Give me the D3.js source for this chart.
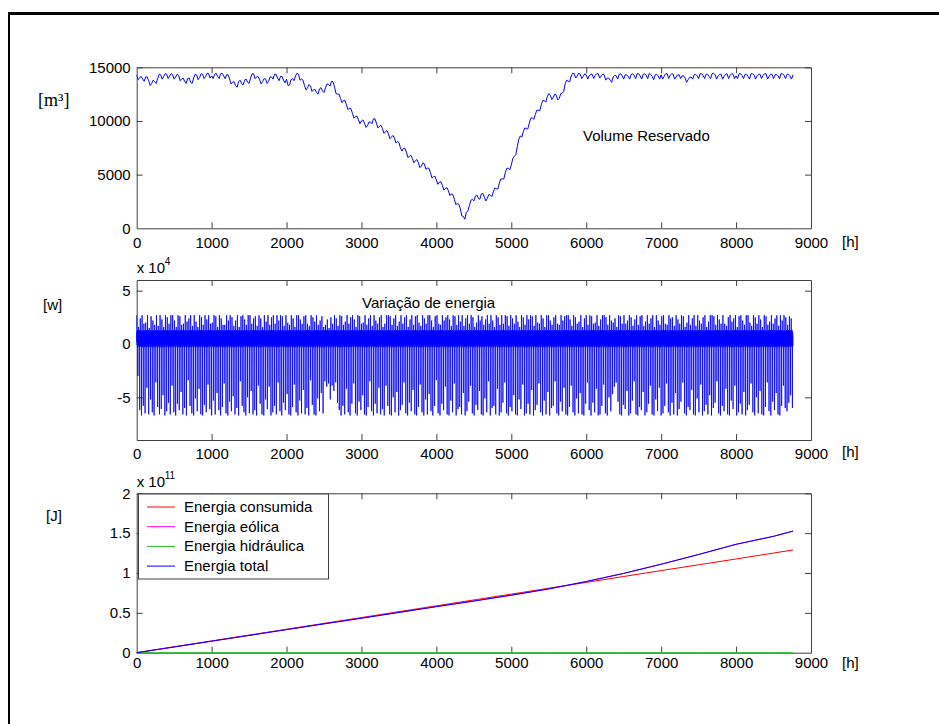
<!DOCTYPE html>
<head>
<meta charset="utf-8">
<title>Volume reservado e energia</title>
<style>
  body { margin: 0; background: #fff; }
  svg { display: block; }
  .axis text { font: 15px Arial, "Liberation Sans", sans-serif; fill: #000; }
  .axis path, .axis line { stroke: #404040; }
  .lbl { font: 15px Arial, "Liberation Sans", sans-serif; fill: #000; }
  .serif { font: 18px "Times New Roman", "Liberation Serif", serif; fill: #000; }
  .sup { font: 10px Arial, "Liberation Sans", sans-serif; fill: #000; }
</style>
</head>
<body>
<script src="https://d3js.org/d3.v7.min.js"></script>
<script>

// ---- data ----
var hourTicks = [0, 1000, 2000, 3000, 4000, 5000, 6000, 7000, 8000, 9000];

// reservoir volume [m3], one sample every 20 h from 0 to 8760 h
var volumeStep = 20;
var volume = [
  14250,13850,14050,14150,13900,13700,14100,14100,13750,13300,13500,13800,13650,13500,13950,14350,14300,13900,14150,14400,14350,13950,14200,14400,14300,13900,14100,14350,14250,13750,13900,14000,13700,13500,13950,14000,13600,13500,14000,14350,14300,13850,14050,14400,14350,13950,14150,14450,14400,14000,
  14200,13950,14350,14450,14150,13950,14400,14450,14200,13950,14300,14300,13900,13450,13600,13650,13300,13150,13650,13800,13500,13350,13800,13900,13600,13500,14000,14400,14400,13950,14100,14150,13850,13450,13650,13950,13900,13500,13700,14100,14100,13900,14350,14350,14000,13750,14150,14150,13800,13550,
  13900,13300,13350,13850,13950,13750,14200,14450,14350,13800,13900,13800,13300,12900,13100,13400,13250,12750,12900,12950,12650,12500,13000,13100,12800,12650,13100,13450,13400,13250,13700,13650,13200,12550,12500,12500,12100,11700,11900,11900,11500,11050,11200,11150,10700,10250,10400,10450,10100,9750,
  10000,10100,9800,9400,9550,9900,9900,9750,10200,10200,9800,9350,9500,9600,9300,8850,9000,9100,8800,8350,8500,8650,8400,7950,8100,8000,7500,7200,7450,7450,7100,6600,6700,6800,6500,6100,6300,6400,6100,5650,5800,6100,6000,5500,5600,5600,5200,4700,4800,4850,
  4500,4100,4300,4350,4000,3550,3700,3800,3500,3050,3200,3150,2700,2200,2300,2250,1800,1150,1100,850,1500,1600,2100,2600,2700,2550,3000,3100,2800,2700,3200,3250,2900,2550,2800,3150,3100,2950,3400,3750,3700,3650,4200,4600,4600,4600,5200,5600,5600,5450,
  5900,6500,6700,6850,7600,8300,8600,8500,9000,9350,9300,9250,9800,10250,10300,10150,10600,11000,11000,10950,11500,11900,11900,11750,12250,12550,12400,12000,12200,12500,12400,11950,12100,12550,12600,12750,13500,13800,13700,13650,14200,14450,14400,14000,14200,14450,14350,13950,14150,14400,
  14300,13900,14200,14350,14350,13950,14250,14400,14400,14000,14200,14350,14300,13800,14000,14000,13800,13600,14100,14250,14200,13900,14350,14400,14200,13900,14300,14300,14150,13900,14350,14400,14250,13950,14400,14400,14200,13900,14350,14400,14250,13950,14400,14350,14150,13850,14300,14350,14200,13900,
  14300,13900,14150,14400,14400,13950,14250,14400,14350,13900,14100,14300,14300,13950,14200,14200,14000,13600,13850,14050,14100,13900,14300,14350,14200,13950,14400,14400,14250,13950,14350,14350,14150,13950,14400,14450,14300,13900,14200,14350,14350,13900,14150,14350,14400,13950,14250,14400,14350,13950,
  14200,13950,14400,14400,14250,13950,14350,14350,14150,13900,14400,14400,14300,13900,14200,14350,14350,13950,14250,14400,14400,13900,14150,14350,14350,13950,14300,14350,14200,13950,14400,14400,14250,13950,14350,14350,14200,13900,14300
];
var volumeTicks = [0, 5000, 10000, 15000];

// energy variation [x 10^4 W]: one day = high peak, band wiggle, low spike
var dailyHigh = [
  2.7,1.6,2.4,2.7,1.9,2.0,2.7,1.5,2.6,2.2,1.8,2.7,1.7,2.7,2.3,1.6,2.7,2.5,1.9,2.7,
  2.7,2.2,1.6,2.7,2.6,1.8,1.9,2.7,2.1,2.4,2.7,1.7,2.7,2.1,1.6,2.7,2.5,1.8,2.7,2.3,
  2.7,1.9,2.0,2.7,2.6,1.6,2.7,2.4,1.8,1.8,2.7,2.2,2.7,2.5,1.7,2.2,2.7,1.6,2.6,2.7,
  2.3,1.8,2.7,2.7,1.9,2.4,2.6,1.7,2.7,2.4,1.6,2.7,2.1,2.7,1.8,2.5,2.7,1.9,2.7,2.2,
  2.7,2.6,1.7,2.7,2.0,1.8,2.7,2.4,1.6,2.7,2.7,2.3,1.9,2.6,2.7,1.9,1.7,2.7,2.5,2.1,
  2.7,1.8,2.2,2.6,1.6,1.8,2.3,1.5,2.5,1.9,2.7,2.4,1.7,2.7,2.6,1.8,2.1,2.7,1.9,2.5,
  2.7,2.3,1.6,2.7,2.6,1.9,2.0,2.7,1.8,2.4,2.7,1.7,2.7,2.2,1.9,2.5,2.7,1.6,1.9,2.7,
  2.7,2.6,1.8,2.4,2.7,1.7,2.1,2.7,1.9,2.5,2.7,1.6,2.3,2.7,1.8,2.6,2.7,2.0,1.7,2.7,
  2.4,1.9,2.7,2.7,2.2,1.6,2.6,2.7,1.9,1.8,2.7,2.2,2.5,2.7,2.3,1.7,2.7,2.6,1.8,2.7,
  2.1,2.7,1.7,2.4,2.7,1.9,2.7,2.5,1.6,2.0,2.7,2.2,2.6,1.8,2.3,2.7,1.9,2.7,2.2,1.6,
  2.7,2.5,1.8,2.7,1.9,2.7,2.6,1.7,2.7,2.4,1.9,2.7,2.1,1.6,2.7,2.5,1.8,2.7,2.3,2.7,
  2.6,1.7,2.7,2.0,1.9,2.7,2.4,1.6,2.7,2.7,2.2,1.8,2.5,2.7,1.9,1.8,2.7,2.2,2.6,2.7,
  2.7,2.3,1.7,2.7,2.5,1.9,2.1,2.7,1.6,2.4,2.7,1.8,2.7,2.6,1.9,2.0,2.7,1.7,2.3,2.7,
  2.7,2.5,1.8,2.7,2.2,2.0,2.4,1.6,2.7,2.6,1.9,2.7,1.9,2.2,2.7,2.5,1.7,2.3,2.7,1.8,
  2.6,2.7,1.7,2.1,2.7,1.9,2.4,2.7,1.6,2.7,2.2,1.8,2.6,2.7,1.9,1.8,2.7,2.4,2.5,1.7,
  2.7,2.3,1.9,2.7,2.6,1.6,2.0,2.7,1.8,2.4,2.7,1.7,2.7,2.2,1.9,2.5,2.7,1.6,2.1,2.7,
  2.7,2.6,1.8,2.7,2.3,1.9,2.7,1.9,1.7,2.5,2.7,2.1,2.4,2.7,1.6,2.6,2.7,2.2,1.8,2.7,
  2.7,2.0,1.7,2.7,2.5,1.9,2.7,2.3,1.6,2.7,2.6,1.8,2.1,2.7,1.9,2.4,2.7,1.7,2.7,2.2,
  2.7,2.5,1.8,2.6,2.4
];
var dailyLow = [
  -3.0,-6.2,-6.7,-5.8,-6.5,-4.1,-6.6,-5.2,-6.4,-6.7,-3.6,-5.9,-6.6,-6.1,-4.8,-6.7,-6.3,-5.5,-6.6,-3.9,
  -6.4,-6.7,-5.6,-6.2,-4.5,-6.6,-6.0,-6.7,-3.4,-5.8,-6.5,-6.7,-5.1,-6.3,-4.2,-6.6,-6.7,-5.7,-6.4,-3.8,
  -6.1,-6.7,-5.3,-6.6,-4.6,-6.2,-6.7,-5.9,-3.7,-6.5,-6.7,-5.4,-6.3,-4.9,-6.6,-6.0,-6.7,-3.5,-5.8,-6.4,
  -6.7,-5.0,-6.5,-4.4,-6.6,-6.2,-6.7,-3.9,-5.6,-6.6,-6.7,-5.2,-6.1,-4.0,-6.7,-6.4,-5.8,-6.6,-3.6,-6.3,
  -6.7,-5.5,-6.2,-4.7,-6.6,-6.7,-5.9,-3.8,-6.4,-6.7,-5.3,-6.5,-4.3,-6.6,-6.0,-6.7,-3.4,-5.7,-6.6,-6.7,
  -5.1,-6.3,-4.6,-6.5,-3.5,-4.0,-3.7,-5.2,-3.9,-4.4,-3.6,-5.5,-6.2,-6.7,-5.8,-6.6,-4.2,-6.4,-6.7,-5.6,
  -3.7,-6.5,-6.7,-5.4,-6.2,-4.8,-6.6,-6.7,-5.9,-3.5,-6.3,-6.7,-5.6,-6.5,-4.1,-6.6,-6.1,-6.7,-3.9,-5.8,
  -6.6,-6.7,-5.0,-6.4,-4.5,-6.7,-6.2,-5.7,-3.6,-6.5,-6.7,-5.5,-6.3,-4.3,-6.6,-6.7,-5.9,-3.8,-6.4,-6.7,
  -5.2,-6.6,-4.7,-6.3,-6.7,-5.8,-3.4,-6.5,-6.7,-5.6,-6.2,-4.0,-6.6,-6.7,-5.3,-6.4,-3.7,-6.7,-6.1,-5.9,
  -6.6,-4.6,-6.7,-6.3,-5.4,-3.9,-6.5,-6.7,-5.7,-6.2,-4.4,-6.6,-6.7,-5.1,-6.4,-3.5,-6.7,-6.0,-5.8,-6.6,
  -4.2,-6.7,-6.4,-5.5,-3.6,-6.5,-6.7,-5.9,-6.3,-4.8,-6.6,-6.7,-5.2,-6.1,-3.8,-6.7,-6.5,-5.6,-6.6,-4.3,
  -6.7,-6.2,-5.7,-3.7,-6.4,-6.7,-5.3,-6.6,-4.5,-6.7,-6.0,-5.8,-3.5,-6.5,-6.7,-5.4,-6.3,-4.1,-6.6,-6.7,
  -5.9,-3.9,-6.4,-6.7,-5.1,-6.5,-4.6,-6.6,-6.7,-5.6,-3.6,-6.2,-6.7,-5.5,-6.4,-4.2,-6.7,-6.6,-5.8,-3.8,
  -6.5,-6.7,-5.0,-6.3,-4.7,-4.0,-3.6,-5.4,-6.6,-6.7,-5.7,-6.1,-4.4,-6.7,-6.5,-5.3,-3.5,-6.6,-6.7,-5.9,
  -6.2,-4.5,-6.7,-6.4,-5.6,-3.9,-6.6,-6.7,-5.2,-6.3,-4.1,-6.7,-6.5,-5.8,-3.7,-6.4,-6.7,-5.5,-6.6,-4.6,
  -6.7,-6.1,-5.4,-3.6,-6.5,-6.7,-5.9,-6.2,-4.3,-6.6,-6.7,-5.1,-6.4,-3.8,-6.7,-6.3,-5.7,-6.6,-4.8,-6.7,
  -6.0,-5.5,-3.5,-6.5,-6.7,-5.8,-6.3,-4.2,-6.6,-6.7,-5.3,-6.1,-3.9,-6.7,-6.4,-5.6,-6.6,-4.5,-6.7,-6.2,
  -5.7,-3.7,-6.4,-6.7,-5.0,-6.5,-4.4,-6.6,-6.7,-5.9,-3.6,-6.3,-6.7,-5.4,-6.2,-4.6,-6.6,-6.7,-5.8,-3.9,
  -6.0,-6.3,-5.5,-4.8,-6.0
];
// typical wiggle inside a day (hour of day, value), the low spike sits at hour 16
var dayBandHours = [2, 4, 6, 8, 10, 12, 14, 17, 19, 21, 23];
var dayBand      = [0.2, 1.2, -0.1, 0.9, -0.3, 1.3, 0.3, 0.5, 1.1, -0.2, 0.8];
var energyTicks = [-5, 0, 5];

// cumulated energies [x 10^11 J]
var cumHours   = [0,500,1000,1500,2000,2500,3000,3500,4000,4500,5000,5500,6000,6500,7000,7500,8000,8500,8760];
var consumida  = [0,0.074,0.147,0.221,0.294,0.368,0.441,0.515,0.588,0.662,0.735,0.809,0.882,0.956,1.03,1.103,1.176,1.25,1.289];
var eolica     = [0,0.072,0.145,0.217,0.29,0.362,0.433,0.505,0.578,0.648,0.722,0.8,0.893,0.995,1.11,1.232,1.36,1.46,1.526];
var hidraulica = [0,0,0,0,0,0,0,0,0,0,0,0,0,0,0,0,0,0,0];
var total      = [0,0.072,0.145,0.217,0.29,0.362,0.433,0.505,0.578,0.648,0.722,0.8,0.893,0.995,1.11,1.232,1.36,1.46,1.526];
var cumTicks = [0, 0.5, 1, 1.5, 2];
var legendNames = ["Energia consumida", "Energia eólica", "Energia hidráulica", "Energia total"];
var legendColors = ["#ff0000", "#ff00ff", "#22c022", "#0000ff"];

// ---- layout ----
var width = 939, height = 724;
var left = 136.7, right = 811;

var svg = d3.select("body").append("svg")
    .attr("width", width)
    .attr("height", height);

// outer frame (only top and left edges fall inside the window)
svg.append("line").attr("x1", 8).attr("x2", width).attr("y1", 13.5).attr("y2", 13.5)
    .attr("stroke", "#000").attr("stroke-width", 3);
svg.append("line").attr("x1", 9).attr("x2", 9).attr("y1", 12).attr("y2", height)
    .attr("stroke", "#000").attr("stroke-width", 2);

var x = d3.scaleLinear().domain([0, 9000]).range([left, right]);

function panel(top, bottom, domain, yticks, xpad) {
  var y = d3.scaleLinear().domain(domain).range([bottom, top]);
  var fmt = function(d) { return String(d); };

  svg.append("g").attr("class", "axis")
      .attr("transform", "translate(0," + bottom + ")")
      .call(d3.axisBottom(x).tickValues(hourTicks).tickFormat(fmt).tickSizeInner(-6).tickSizeOuter(0).tickPadding(xpad));
  svg.append("g").attr("class", "axis")
      .attr("transform", "translate(0," + top + ")")
      .call(d3.axisTop(x).tickValues(hourTicks).tickFormat("").tickSizeInner(-6).tickSizeOuter(0));
  svg.append("g").attr("class", "axis")
      .attr("transform", "translate(" + left + ",0)")
      .call(d3.axisLeft(y).tickValues(yticks).tickFormat(fmt).tickSizeInner(-6).tickSizeOuter(0).tickPadding(6));
  svg.append("g").attr("class", "axis")
      .attr("transform", "translate(" + right + ",0)")
      .call(d3.axisRight(y).tickValues(yticks).tickFormat("").tickSizeInner(-6).tickSizeOuter(0));

  svg.selectAll(".axis").attr("font-family", null).attr("font-size", null);
  // no tick drawn right on the box corners
  svg.selectAll(".axis .tick line").filter(function(d) { return d === 0 || d === 9000; }).remove();
  return y;
}

function unitX(yBase) {
  svg.append("text").attr("class", "lbl").attr("x", 842).attr("y", yBase).text("[h]");
}

function power(xPos, yBase, exp) {
  svg.append("text").attr("class", "lbl").attr("x", xPos).attr("y", yBase).text("x 10");
  svg.append("text").attr("class", "sup").attr("x", xPos + 28).attr("y", yBase - 8).text(exp);
}

// ---- top: volume ----
var yV = panel(67.3, 228.3, [0, 15000], volumeTicks, 9);
svg.append("path")
    .datum(volume)
    .attr("fill", "none")
    .attr("stroke", "#0000ff")
    .attr("stroke-width", 1)
    .attr("d", d3.line()
      .x(function(d, i) { return x(i * volumeStep); })
      .y(function(d) { return yV(d); }));
svg.append("text").attr("class", "serif").attr("x", 38).attr("y", 106).text("[m³]");
svg.append("text").attr("class", "lbl").attr("x", 583).attr("y", 141).text("Volume Reservado");
unitX(247);

// ---- middle: energy variation ----
var energy = [];
dailyLow.forEach(function(low, d) {
  var h0 = d * 24;
  energy.push([h0, dailyHigh[d]]);
  dayBandHours.forEach(function(o, i) {
    if (o === 17) energy.push([h0 + 16, low]);
    energy.push([h0 + o, dayBand[i]]);
  });
});

var yE = panel(280, 440, [-9, 6], energyTicks, 8);
svg.append("path")
    .datum(energy)
    .attr("fill", "none")
    .attr("stroke", "#0000ff")
    .attr("stroke-width", 0.8)
    .attr("d", d3.line()
      .x(function(d) { return x(d[0]); })
      .y(function(d) { return yE(d[1]); }));
power(136.7, 273, "4");
svg.append("text").attr("class", "lbl").attr("x", 43).attr("y", 310).text("[w]");
svg.append("text").attr("class", "lbl").attr("x", 362).attr("y", 308).text("Variação de energia");
unitX(457);

// ---- bottom: cumulated energies ----
var yC = panel(493.3, 652.7, [0, 2], cumTicks, 5);
var series = [consumida, eolica, hidraulica, total];
series.forEach(function(s, k) {
  svg.append("path")
      .datum(s)
      .attr("fill", "none")
      .attr("stroke", legendColors[k])
      .attr("stroke-width", 1)
      .attr("d", d3.line()
        .x(function(d, i) { return x(cumHours[i]); })
        .y(function(d) { return yC(d); }));
});
power(136.7, 487, "11");
svg.append("text").attr("class", "lbl").attr("x", 46).attr("y", 521).text("[J]");
unitX(668);

// legend
var lg = svg.append("g").attr("transform", "translate(138.5,494)");
lg.append("rect")
    .attr("width", 190).attr("height", 85)
    .attr("fill", "#fff").attr("stroke", "#404040").attr("stroke-width", 1);
legendNames.forEach(function(name, k) {
  var cy = 13 + k * 19.7;
  lg.append("line")
      .attr("x1", 8.5).attr("x2", 36.5).attr("y1", cy).attr("y2", cy)
      .attr("stroke", legendColors[k]).attr("stroke-width", 1);
  lg.append("text").attr("class", "lbl")
      .attr("x", 45.5).attr("y", cy + 5).text(name);
});

</script>
</body>
